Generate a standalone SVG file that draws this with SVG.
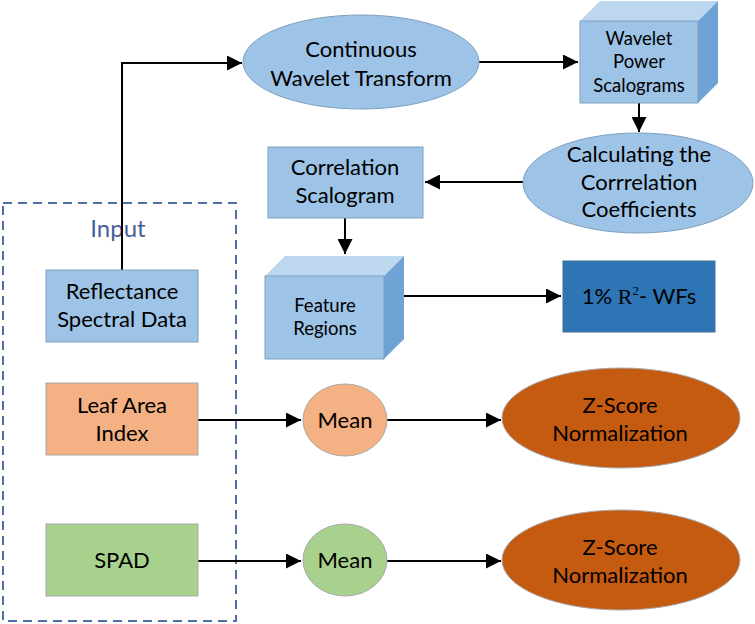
<svg xmlns="http://www.w3.org/2000/svg" width="755" height="624" viewBox="0 0 755 624">
  <style>
    text { font-family: Lato, "Open Sans", "Liberation Sans", sans-serif; fill: #000; text-anchor: middle; }
    .t22 { font-size: 22px; }
    .t18 { font-size: 18.5px; }
    .blue { fill: #9dc3e6; stroke: #7f9fc0; stroke-width: 1; }
    .top { fill: #bdd7ee; }
    .side { fill: #6fa3d6; }
    .conn { fill: none; stroke: #000; stroke-width: 2; }
  </style>
  <defs>
    <marker id="arrow" viewBox="0 0 10 10" refX="10" refY="5" markerWidth="7.5" markerHeight="7.5" markerUnits="strokeWidth" orient="auto">
      <path d="M0,0 L10,5 L0,10 Z" fill="#000"/>
    </marker>
  </defs>

  <!-- Input grouping frame -->
  <g id="input-frame">
    <rect x="3" y="203" width="233" height="418" fill="none" stroke="#4f6fa6" stroke-width="2" stroke-dasharray="9,6"/>
    <text x="118" y="237" style="font-size:24px; fill:#44619a">Input</text>
  </g>

  <!-- Connectors -->
  <g id="connectors">
    <polyline class="conn" points="122,270 122,63 242,63" marker-end="url(#arrow)"/>
    <line class="conn" x1="478" y1="62" x2="578" y2="62" marker-end="url(#arrow)"/>
    <line class="conn" x1="639" y1="103" x2="639" y2="132" marker-end="url(#arrow)"/>
    <line class="conn" x1="523" y1="182" x2="425" y2="182" marker-end="url(#arrow)"/>
    <line class="conn" x1="345" y1="218" x2="345" y2="254" marker-end="url(#arrow)"/>
    <line class="conn" x1="404" y1="296" x2="561" y2="296" marker-end="url(#arrow)"/>
    <line class="conn" x1="198" y1="420" x2="301" y2="420" marker-end="url(#arrow)"/>
    <line class="conn" x1="387" y1="420" x2="501" y2="420" marker-end="url(#arrow)"/>
    <line class="conn" x1="198" y1="561" x2="301" y2="561" marker-end="url(#arrow)"/>
    <line class="conn" x1="387" y1="561" x2="501" y2="561" marker-end="url(#arrow)"/>
  </g>

  <!-- Continuous Wavelet Transform -->
  <g id="cwt">
    <ellipse class="blue" cx="361" cy="62" rx="118" ry="47"/>
    <text class="t22" x="361" y="57">Continuous</text>
    <text class="t22" x="361" y="86">Wavelet Transform</text>
  </g>

  <!-- Wavelet Power Scalograms (cube) -->
  <g id="wavelet-power">
    <polygon class="top" points="580,21 600,1 718,1 698,21"/>
    <polygon class="side" points="698,21 718,1 718,83 698,103"/>
    <rect class="blue" x="580" y="21" width="118" height="82" stroke="none"/>
    <text class="t18" x="639" y="45">Wavelet</text>
    <text class="t18" x="639" y="68">Power</text>
    <text class="t18" x="639" y="92">Scalograms</text>
  </g>

  <!-- Calculating the correlation coefficients -->
  <g id="calc-corr">
    <ellipse class="blue" cx="638" cy="183" rx="115" ry="50"/>
    <text class="t22" x="639" y="162">Calculating the</text>
    <text class="t22" x="639" y="190">Corrrelation</text>
    <text class="t22" x="639" y="217">Coefficients</text>
  </g>

  <!-- Correlation Scalogram -->
  <g id="corr-scalogram">
    <rect class="blue" x="268" y="147" width="155" height="71"/>
    <text class="t22" x="345" y="175">Correlation</text>
    <text class="t22" x="345" y="203">Scalogram</text>
  </g>

  <!-- Feature Regions (cube) -->
  <g id="feature-regions">
    <polygon class="top" points="265,276 285,256 404,256 384,276"/>
    <polygon class="side" points="384,276 404,256 404,339 384,359"/>
    <rect class="blue" x="265" y="276" width="119" height="83" stroke="none"/>
    <text class="t18" x="325" y="312">Feature</text>
    <text class="t18" x="325" y="335">Regions</text>
  </g>

  <!-- 1% R2 wavelet features -->
  <g id="wfs">
    <rect x="563" y="261" width="152" height="71" fill="#2e75b6" stroke="#41719c" stroke-width="1"/>
    <text class="t22" x="639" y="304">1% <tspan style="font-family:'Liberation Serif', serif">R</tspan><tspan dy="-9" style="font-family:'Liberation Serif', serif; font-size:13px">2</tspan><tspan dy="9">- WFs</tspan></text>
  </g>

  <!-- Reflectance Spectral Data -->
  <g id="reflectance">
    <rect class="blue" x="46" y="270" width="152" height="72"/>
    <text class="t22" x="122" y="299">Reflectance</text>
    <text class="t22" x="122" y="327">Spectral Data</text>
  </g>

  <!-- Leaf Area Index -->
  <g id="lai">
    <rect x="46" y="383" width="152" height="72" fill="#f4b183" stroke="#a8a8a8" stroke-width="1"/>
    <text class="t22" x="122" y="413">Leaf Area</text>
    <text class="t22" x="122" y="441">Index</text>
  </g>

  <!-- SPAD -->
  <g id="spad">
    <rect x="46" y="524" width="152" height="72" fill="#a9d18e" stroke="#a8a8a8" stroke-width="1"/>
    <text class="t22" x="122" y="568">SPAD</text>
  </g>

  <!-- Mean (LAI) -->
  <g id="mean-lai">
    <ellipse cx="345" cy="420" rx="42" ry="36" fill="#f4b183" stroke="#a8a8a8" stroke-width="1"/>
    <text class="t22" x="345" y="428">Mean</text>
  </g>

  <!-- Mean (SPAD) -->
  <g id="mean-spad">
    <ellipse cx="345" cy="560" rx="42" ry="36" fill="#a9d18e" stroke="#a8a8a8" stroke-width="1"/>
    <text class="t22" x="345" y="568">Mean</text>
  </g>

  <!-- Z-Score Normalization (LAI) -->
  <g id="zscore-lai">
    <ellipse cx="621" cy="418" rx="119" ry="50" fill="#c55a11" stroke="#a8a8a8" stroke-width="1"/>
    <text class="t22" x="620" y="413">Z-Score</text>
    <text class="t22" x="620" y="441">Normalization</text>
  </g>

  <!-- Z-Score Normalization (SPAD) -->
  <g id="zscore-spad">
    <ellipse cx="621" cy="560" rx="119" ry="50" fill="#c55a11" stroke="#a8a8a8" stroke-width="1"/>
    <text class="t22" x="620" y="555">Z-Score</text>
    <text class="t22" x="620" y="583">Normalization</text>
  </g>
</svg>
